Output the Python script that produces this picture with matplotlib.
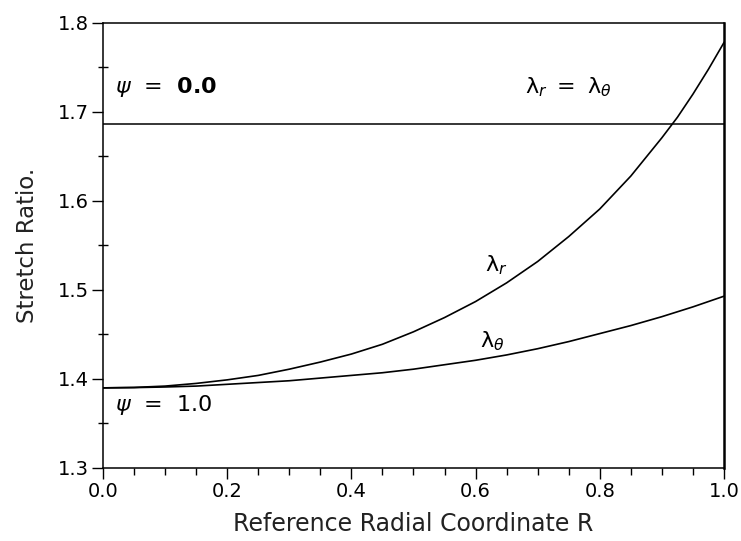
import numpy as np
import matplotlib
matplotlib.use("Agg")
import matplotlib.pyplot as plt
from matplotlib.ticker import MultipleLocator, FormatStrFormatter

# values
R = [0.0, 0.05, 0.1, 0.15, 0.2, 0.25, 0.3, 0.35, 0.4, 0.45, 0.5,
     0.55, 0.6, 0.65, 0.7, 0.75, 0.8, 0.85, 0.9, 0.925, 0.95, 0.975, 1.0]
lam_r = [1.390, 1.3905, 1.392, 1.395, 1.399, 1.404, 1.411, 1.419, 1.428, 1.439, 1.453,
         1.469, 1.487, 1.508, 1.532, 1.560, 1.591, 1.628, 1.671, 1.694, 1.720, 1.748, 1.778]
lam_t = [1.390, 1.3903, 1.391, 1.392, 1.394, 1.396, 1.398, 1.401, 1.404, 1.407, 1.411,
         1.416, 1.421, 1.427, 1.434, 1.442, 1.451, 1.460, 1.470, 1.4755, 1.481, 1.487, 1.493]
lam_psi0 = 1.686   # psi = 0.0, lambda_r = lambda_theta

fig = plt.figure(figsize=(7.41, 5.41), dpi=100)
ax = fig.add_axes([0.139, 0.135, 0.838, 0.8225])

ax.plot(R, lam_r, color="black", lw=1.2)
ax.plot(R, lam_t, color="black", lw=1.2)
ax.axhline(lam_psi0, color="black", lw=1.1)

ax.set_xlim(0.0, 1.0)
ax.set_ylim(1.3, 1.8)
ax.xaxis.set_major_locator(MultipleLocator(0.2))
ax.xaxis.set_minor_locator(MultipleLocator(0.05))
ax.yaxis.set_major_locator(MultipleLocator(0.1))
ax.yaxis.set_minor_locator(MultipleLocator(0.05))
ax.xaxis.set_major_formatter(FormatStrFormatter("%.1f"))
ax.yaxis.set_major_formatter(FormatStrFormatter("%.1f"))
ax.tick_params(axis="both", which="major", direction="out", length=8, width=1.0,
               labelsize=14, pad=2)
ax.tick_params(axis="x", which="minor", direction="out", length=5, width=1.0)
ax.tick_params(axis="y", which="minor", direction="inout", length=7, width=1.0)
for s in ax.spines.values():
    s.set_linewidth(1.1)
ax.spines["right"].set_linewidth(1.8)

ax.set_xlabel("Reference Radial Coordinate R", fontsize=17, labelpad=8,
              color="#222222")
ax.set_ylabel("Stretch Ratio.", fontsize=16.5, labelpad=14, color="#222222")

ax.text(0.02, 1.728, r"$\psi$  =  $\mathbf{0.0}$", fontsize=16, va="center")
ax.text(0.02, 1.371, r"$\psi$  =  1.0", fontsize=16, va="center")
ax.text(0.68, 1.728, r"$\mathrm{\lambda}_{r}\ =\ \mathrm{\lambda}_{\theta}$",
        fontsize=16, va="center")
ax.text(0.615, 1.528, r"$\mathrm{\lambda}_{r}$", fontsize=16, va="center")
ax.text(0.607, 1.443, r"$\mathrm{\lambda}_{\theta}$", fontsize=16, va="center")

fig.savefig("out.png", dpi=100)
